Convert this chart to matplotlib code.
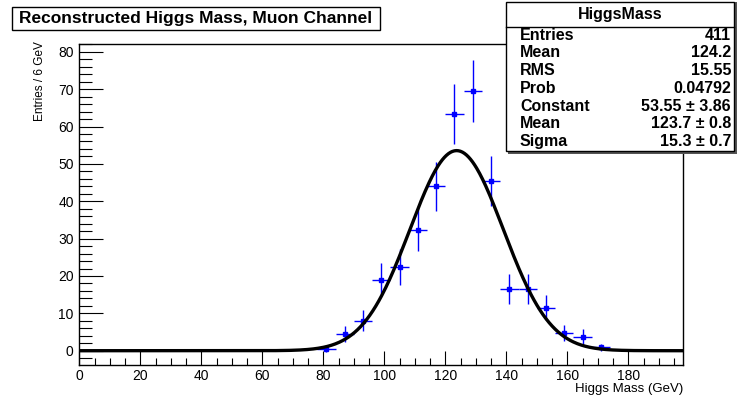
import numpy as np
import matplotlib
matplotlib.use('Agg')
import matplotlib.pyplot as plt
from matplotlib.ticker import MultipleLocator

plt.rcParams['font.family'] = ['Liberation Sans', 'DejaVu Sans']

# histogram bins (6 GeV wide), only the non-empty ones
mass = [81, 87, 93, 99, 105, 111, 117, 123, 129, 135, 141, 147, 153, 159, 165, 171]
entries = [0.45, 4.5, 8.0, 19.0, 22.4, 32.4, 44.0, 63.4, 69.4, 45.3, 16.5, 16.5, 11.5, 4.8, 3.8, 0.9]
errors = [0.7, 2.1, 2.8, 4.4, 4.7, 5.7, 6.6, 8.0, 8.3, 6.7, 4.1, 4.1, 3.4, 2.2, 1.9, 0.9]
bin_half = 3

# gaussian fit parameters
fit_const = 53.55
fit_mean = 123.7
fit_sigma = 15.3

stat_names = ['Entries', 'Mean', 'RMS', 'Prob', 'Constant', 'Mean', 'Sigma']
stat_values = ['411', '124.2', '15.55', '0.04792', '53.55 \u00b1 3.86', '123.7 \u00b1 0.8', '15.3 \u00b1 0.7']

fig = plt.figure(figsize=(7.37, 3.98), dpi=100)
ax = fig.add_axes([0.1076, 0.0822, 0.9271 - 0.1076, 0.8887 - 0.0822])

xf = np.linspace(0, 198, 600)
yf = fit_const * np.exp(-0.5 * ((xf - fit_mean) / fit_sigma) ** 2)

ax.errorbar(mass, entries, yerr=errors, xerr=bin_half, fmt='s', color='#0000ff',
            ms=3, elinewidth=1, capsize=0, zorder=2)
ax.plot(xf, yf, color='black', lw=2.4, zorder=3)

ax.set_xlim(0, 198)
ax.set_ylim(-3.9, 82.0)
ax.xaxis.set_major_locator(MultipleLocator(20))
ax.xaxis.set_minor_locator(MultipleLocator(5))
ax.yaxis.set_major_locator(MultipleLocator(10))
ax.yaxis.set_minor_locator(MultipleLocator(2))
ax.tick_params(axis='y', which='major', direction='in', length=17, width=0.8, pad=4, labelsize=10)
ax.tick_params(axis='y', which='minor', direction='in', length=9, width=0.8)
ax.tick_params(axis='x', which='major', direction='in', length=10, width=0.8, pad=3, labelsize=10)
ax.tick_params(axis='x', which='minor', direction='in', length=5, width=0.8)
for s in ax.spines.values():
    s.set_linewidth(1.0)

fig.text(683, 398 - 389, 'Higgs Mass (GeV)', ha='right', va='center', fontsize=9.5,
         transform=None)
fig.text(40, 398 - 41, 'Entries / 6 GeV', ha='center', va='top', rotation=90,
         fontsize=8.5, transform=None)

# title box
fig.patches.append(plt.Rectangle((12, 398 - 30), 368, 23, transform=None,
                                 fill=True, fc='white', ec='black', lw=1))
fig.text(196, 398 - 18.5, 'Reconstructed Higgs Mass, Muon Channel', ha='center', va='center',
         fontsize=12.5, fontweight='bold', transform=None)

# stats box with shadow
fig.patches.append(plt.Rectangle((508, 398 - 154), 229, 152, transform=None,
                                 fc='#555555', ec='none', zorder=5))
fig.patches.append(plt.Rectangle((506, 398 - 151), 228, 149, transform=None,
                                 fc='white', ec='black', lw=1, zorder=6))
fig.lines.append(plt.Line2D([506, 734], [398 - 27, 398 - 27], transform=None,
                            color='black', lw=1, zorder=7))
fig.text(620, 398 - 15, 'HiggsMass', ha='center', va='center', fontsize=11.5,
         fontweight='bold', transform=None, zorder=8)
for i, (n, v) in enumerate(zip(stat_names, stat_values)):
    y = 398 - (35 + i * 17.8)
    fig.text(520, y, n, ha='left', va='center', fontsize=11.5, fontweight='bold',
             transform=None, zorder=8)
    fig.text(731, y, v, ha='right', va='center', fontsize=11.5, fontweight='bold',
             transform=None, zorder=8)

fig.savefig('out.png', dpi=100)
